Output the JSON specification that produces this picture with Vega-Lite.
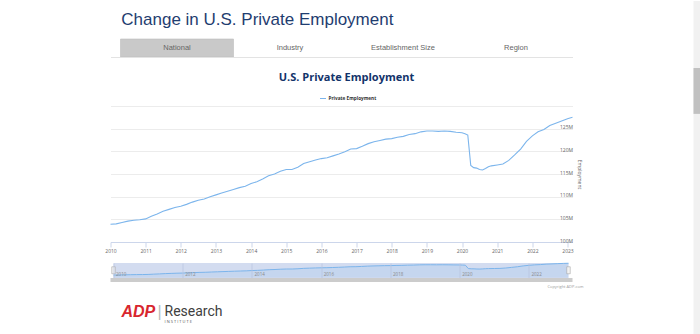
{
  "$schema": "https://vega.github.io/schema/vega-lite/v6.json",
  "background": "white",
  "padding": {"left": 104.5, "top": 0, "right": 0, "bottom": 0},
  "autosize": {"type": "pad"},
  "config": {"view": {"stroke": null}, "font": "Open Sans"},
  "resolve": {"legend": {"color": "independent"}, "scale": {"color": "independent", "x": "independent", "y": "independent"}},
  "datasets": {
    "emp": [
      {"date": "2010-01-01", "emp": 103.9},
      {"date": "2010-03-01", "emp": 104.0},
      {"date": "2010-05-01", "emp": 104.3},
      {"date": "2010-07-01", "emp": 104.6},
      {"date": "2010-09-01", "emp": 104.8},
      {"date": "2010-11-01", "emp": 104.9},
      {"date": "2011-01-01", "emp": 105.1},
      {"date": "2011-03-01", "emp": 105.7},
      {"date": "2011-05-01", "emp": 106.2},
      {"date": "2011-07-01", "emp": 106.8},
      {"date": "2011-09-01", "emp": 107.2},
      {"date": "2011-11-01", "emp": 107.6},
      {"date": "2012-01-01", "emp": 107.9},
      {"date": "2012-03-01", "emp": 108.3},
      {"date": "2012-05-01", "emp": 108.8},
      {"date": "2012-07-01", "emp": 109.2},
      {"date": "2012-09-01", "emp": 109.5},
      {"date": "2012-11-01", "emp": 110.0},
      {"date": "2013-01-01", "emp": 110.4},
      {"date": "2013-03-01", "emp": 110.8},
      {"date": "2013-05-01", "emp": 111.2},
      {"date": "2013-07-01", "emp": 111.6},
      {"date": "2013-09-01", "emp": 112.0},
      {"date": "2013-11-01", "emp": 112.3},
      {"date": "2014-01-01", "emp": 112.9},
      {"date": "2014-03-01", "emp": 113.3},
      {"date": "2014-05-01", "emp": 113.9},
      {"date": "2014-07-01", "emp": 114.6},
      {"date": "2014-09-01", "emp": 115.0},
      {"date": "2014-11-01", "emp": 115.6},
      {"date": "2015-01-01", "emp": 116.0},
      {"date": "2015-03-01", "emp": 116.0},
      {"date": "2015-05-01", "emp": 116.5},
      {"date": "2015-07-01", "emp": 117.3},
      {"date": "2015-09-01", "emp": 117.7},
      {"date": "2015-11-01", "emp": 118.1},
      {"date": "2016-01-01", "emp": 118.4},
      {"date": "2016-03-01", "emp": 118.6},
      {"date": "2016-05-01", "emp": 119.0},
      {"date": "2016-07-01", "emp": 119.4},
      {"date": "2016-09-01", "emp": 119.9},
      {"date": "2016-11-01", "emp": 120.5},
      {"date": "2017-01-01", "emp": 120.6},
      {"date": "2017-03-01", "emp": 121.1},
      {"date": "2017-05-01", "emp": 121.7},
      {"date": "2017-07-01", "emp": 122.1},
      {"date": "2017-09-01", "emp": 122.4},
      {"date": "2017-11-01", "emp": 122.7},
      {"date": "2018-01-01", "emp": 122.8},
      {"date": "2018-03-01", "emp": 123.1},
      {"date": "2018-05-01", "emp": 123.3},
      {"date": "2018-07-01", "emp": 123.7},
      {"date": "2018-09-01", "emp": 123.9},
      {"date": "2018-11-01", "emp": 124.3},
      {"date": "2019-01-01", "emp": 124.5},
      {"date": "2019-03-01", "emp": 124.5},
      {"date": "2019-05-01", "emp": 124.4},
      {"date": "2019-07-01", "emp": 124.5},
      {"date": "2019-09-01", "emp": 124.4},
      {"date": "2019-11-01", "emp": 124.2},
      {"date": "2020-01-01", "emp": 124.1},
      {"date": "2020-02-01", "emp": 123.9},
      {"date": "2020-03-01", "emp": 123.6},
      {"date": "2020-04-01", "emp": 116.9},
      {"date": "2020-05-01", "emp": 116.4},
      {"date": "2020-06-01", "emp": 116.3},
      {"date": "2020-07-01", "emp": 116.0},
      {"date": "2020-08-01", "emp": 115.9},
      {"date": "2020-09-01", "emp": 116.2},
      {"date": "2020-10-01", "emp": 116.6},
      {"date": "2020-11-01", "emp": 116.8},
      {"date": "2021-01-01", "emp": 117.0},
      {"date": "2021-03-01", "emp": 117.2},
      {"date": "2021-05-01", "emp": 118.0},
      {"date": "2021-07-01", "emp": 119.2},
      {"date": "2021-09-01", "emp": 120.5},
      {"date": "2021-11-01", "emp": 122.2},
      {"date": "2022-01-01", "emp": 123.4},
      {"date": "2022-03-01", "emp": 124.3},
      {"date": "2022-05-01", "emp": 124.8},
      {"date": "2022-07-01", "emp": 125.7},
      {"date": "2022-09-01", "emp": 126.2},
      {"date": "2022-11-01", "emp": 126.7},
      {"date": "2023-01-01", "emp": 127.2},
      {"date": "2023-02-22", "emp": 127.5}
    ]
  },
  "spacing": 110,
  "hconcat": [
    {
      "title": {"text": "Change in U.S. Private Employment", "anchor": "start", "font": "Liberation Sans", "fontSize": 17, "fontWeight": "normal", "color": "#1f3d70", "dx": 16.5, "offset": 10},
      "spacing": 14,
      "resolve": {"legend": {"color": "independent"}, "scale": {"color": "independent"}},
      "vconcat": [
        {
          "width": 462,
          "height": 18,
          "data": {"values": [{"tab": "National"}, {"tab": "Industry"}, {"tab": "Establishment Size"}, {"tab": "Region"}]},
          "encoding": {
            "x": {"field": "tab", "type": "nominal", "sort": null,
              "scale": {"type": "band", "domain": ["National", "Industry", "Establishment Size", "Region"], "paddingInner": 0, "paddingOuter": 0.0443, "align": 1},
              "axis": {"title": null, "labels": false, "ticks": false, "domain": true, "domainColor": "#e3e3e3", "grid": false}}
          },
          "layer": [
            {"transform": [{"filter": "datum.tab === 'National'"}], "mark": {"type": "rect", "fill": "#c9c9c9", "stroke": "#bdbdbd", "strokeWidth": 0.6}},
            {"mark": {"type": "text", "fontSize": 7.5, "color": "#666666", "font": "Liberation Sans"}, "encoding": {"text": {"field": "tab"}}}
          ]
        },
        {
          "spacing": 8,
          "resolve": {"legend": {"color": "independent"}, "scale": {"color": "independent"}},
          "vconcat": [
            {
              "width": 462,
              "height": 136,
              "title": {"text": "U.S. Private Employment", "font": "Open Sans", "fontSize": 11, "fontWeight": "bold", "color": "#12336a", "anchor": "middle", "dx": 5, "offset": 12},
              "data": {"name": "emp"},
              "mark": {"type": "line", "strokeWidth": 1.1},
              "encoding": {
                "x": {"field": "date", "type": "temporal",
                  "scale": {"type": "utc", "domain": [{"year": 2010, "month": 1, "date": 1, "utc": true}, {"year": 2023, "month": 2, "date": 22, "utc": true}]},
                  "axis": {"title": null, "format": "%Y", "tickCount": {"interval": "year", "step": 1}, "labelFontSize": 5, "labelColor": "#666666", "tickColor": "#ccd6eb", "domainColor": "#ccd6eb", "tickSize": 5, "labelPadding": 1, "grid": false, "labelFlush": false, "labelOverlap": false}},
                "y": {"field": "emp", "type": "quantitative",
                  "scale": {"domain": [100, 130], "zero": false},
                  "axis": {"orient": "right", "values": [100, 105, 110, 115, 120, 125, 130], "labelExpr": "datum.value >= 130 ? '' : datum.value + 'M'", "grid": true, "gridColor": "#ececec", "ticks": false, "domain": false, "labelAlign": "right", "labelBaseline": "alphabetic", "labelPadding": 0, "labelOverlap": false, "labelFontSize": 5, "labelColor": "#666666", "title": "Employment", "titleFontSize": 5, "titleColor": "#666666", "titleFontWeight": "normal", "titlePadding": 4}},
                "color": {"datum": "Private Employment", "type": "nominal", "scale": {"range": ["#7cb5ec"]},
                  "legend": {"orient": "none", "legendX": 209, "legendY": -11, "title": null, "padding": 0, "symbolType": "stroke", "symbolStrokeWidth": 1, "symbolSize": 36, "labelFontSize": 4.7, "labelFontWeight": "bold", "labelColor": "#333333", "labelOffset": 2}}
              }
            },
            {
              "spacing": 0,
              "vconcat": [
                {
                  "width": 462,
                  "height": 15,
                  "encoding": {
                    "x": {"type": "temporal",
                      "scale": {"type": "utc", "domain": [{"year": 2010, "month": 1, "date": 1, "utc": true}, {"year": 2023, "month": 2, "date": 22, "utc": true}], "range": [3, 458]},
                      "axis": {"title": null, "orient": "bottom", "grid": true, "gridColor": "#b7c3e0", "gridWidth": 0.7, "ticks": false, "domain": false, "labelAlign": "left", "labelBaseline": "bottom", "labelPadding": -2, "labelOffset": 2, "labelFontSize": 4.5, "labelColor": "#8a8a8a", "tickCount": {"interval": "year", "step": 2}, "format": "%Y", "zindex": 1, "labelFlush": false}}
                  },
                  "layer": [
                    {
                      "data": {"values": [{}]},
                      "mark": {"type": "rect", "fill": "#d3dcf0"},
                      "encoding": {
                        "x": {"datum": {"year": 2010, "month": 1, "date": 1, "utc": true}, "type": "temporal"},
                        "x2": {"datum": {"year": 2023, "month": 2, "date": 22, "utc": true}}
                      }
                    },
                    {
                      "data": {"name": "emp"},
                      "mark": {"type": "area", "color": "#7cb5ec", "opacity": 0.15, "line": {"color": "#7cb5ec", "strokeWidth": 1}},
                      "encoding": {
                        "x": {"field": "date", "type": "temporal"},
                        "y": {"field": "emp", "type": "quantitative", "scale": {"domain": [99, 128], "zero": false}, "axis": null},
                        "y2": {"datum": 99}
                      }
                    },
                    {
                      "data": {"values": [{}]},
                      "mark": {"type": "point", "shape": "M -0.5 -1 L 0.5 -1 L 0.5 1 L -0.5 1 Z", "size": 49, "filled": true, "fill": "#f2f2f2", "stroke": "#999999", "strokeWidth": 0.5, "opacity": 1},
                      "encoding": {
                        "x": {"datum": {"year": 2010, "month": 1, "date": 1, "utc": true}, "type": "temporal"},
                        "y": {"datum": 113.5, "type": "quantitative"}
                      }
                    },
                    {
                      "data": {"values": [{}]},
                      "mark": {"type": "point", "shape": "M -0.5 -1 L 0.5 -1 L 0.5 1 L -0.5 1 Z", "size": 49, "filled": true, "fill": "#f2f2f2", "stroke": "#999999", "strokeWidth": 0.5, "opacity": 1},
                      "encoding": {
                        "x": {"datum": {"year": 2023, "month": 2, "date": 22, "utc": true}, "type": "temporal"},
                        "y": {"datum": 113.5, "type": "quantitative"}
                      }
                    }
                  ]
                },
                {
                  "width": 462,
                  "height": 4,
                  "data": {"values": [{}]},
                  "mark": {"type": "rect", "fill": "#cccccc"},
                  "encoding": {},
                  "title": {"text": "Copyright ADP.com", "orient": "bottom", "anchor": "end", "fontSize": 4, "color": "#999999", "fontWeight": "normal", "offset": 3, "dx": 11}
                }
              ]
            }
          ]
        },
        {
          "spacing": 2,
          "hconcat": [
            {
              "width": 45, "height": 1,
              "data": {"values": [{}]},
              "mark": {"type": "text", "text": ""},
              "title": {"text": "ADP", "font": "Liberation Sans", "fontSize": 16, "fontWeight": "bold", "fontStyle": "italic", "color": "#d8262e", "anchor": "start", "dx": 11, "offset": 4}
            },
            {
              "width": 4, "height": 1,
              "data": {"values": [{}]},
              "mark": {"type": "text", "text": ""},
              "title": {"text": "|", "font": "Liberation Sans", "fontSize": 16, "fontWeight": "normal", "color": "#bbbbbb", "anchor": "start", "offset": 4}
            },
            {
              "width": 60, "height": 1,
              "data": {"values": [{}]},
              "mark": {"type": "text", "text": ""},
              "title": {"text": "Research", "subtitle": "I N S T I T U T E", "font": "Roboto", "fontSize": 14, "fontWeight": "normal", "color": "#404040", "subtitleFontSize": 4, "subtitleColor": "#555555", "subtitlePadding": 1, "anchor": "start", "offset": 0}
            }
          ]
        }
      ]
    },
    {
      "width": 8,
      "height": 296,
      "data": {"values": [{"part": "track", "from": -0.1284, "to": 1}, {"part": "thumb", "from": 0.098, "to": 0.253}]},
      "mark": {"type": "rect"},
      "encoding": {
        "y": {"field": "from", "type": "quantitative", "scale": {"domain": [0, 1], "reverse": true}, "axis": null},
        "y2": {"field": "to"},
        "color": {"field": "part", "type": "nominal", "scale": {"domain": ["track", "thumb"], "range": ["#f1f1f1", "#c1c1c1"]}, "legend": null}
      }
    }
  ]
}
